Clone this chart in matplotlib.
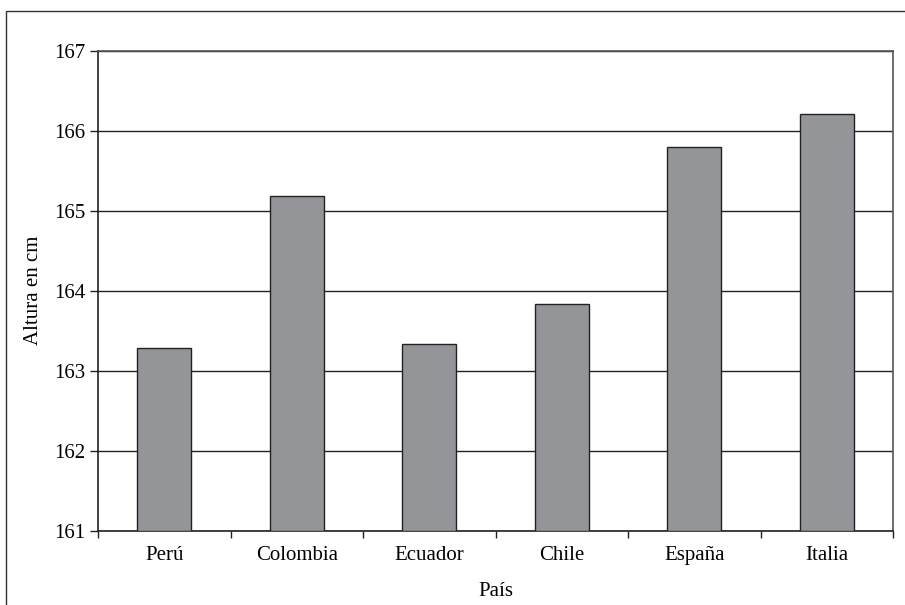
import matplotlib.pyplot as plt
import numpy as np
from matplotlib.patches import Rectangle

paises = ['Perú', 'Colombia', 'Ecuador', 'Chile', 'España', 'Italia']
altura = [163.28, 165.18, 163.33, 163.84, 165.80, 166.21]

plt.rcParams['font.family'] = ['Liberation Serif', 'DejaVu Serif']
plt.rcParams['font.size'] = 15

W, H = 905, 605
fig = plt.figure(figsize=(W / 100, H / 100), dpi=100)
ax = fig.add_axes([98 / W, 1 - 530.7 / H, (893 - 98) / W, (530.7 - 50.7) / H])

# marco exterior del gráfico
fig.patches.append(Rectangle((6 / W, -0.1), 1.2, 1 - 11 / H + 0.1,
                             transform=fig.transFigure, fill=False,
                             edgecolor='#333333', linewidth=1.0))

x = np.arange(len(paises))
ax.bar(x, np.array(altura) - 161, bottom=161, width=0.41,
       color='#939598', edgecolor='#222222', linewidth=1.0, zorder=3)

ax.set_xlim(-0.5, len(paises) - 0.5)
ax.set_ylim(161, 167)
ax.set_yticks(range(161, 168))
ax.yaxis.grid(True, color='#222222', linewidth=1.0, zorder=0)

ax.set_xticks(x)
ax.set_xticklabels(paises)
ax.set_xticks(np.arange(-0.5, len(paises)), minor=True)
ax.tick_params(axis='x', which='major', length=0, pad=11)
ax.tick_params(axis='x', which='minor', length=5, width=1, color='#222222')
ax.tick_params(axis='y', length=6, width=1, color='#222222', pad=3)

for side in ['left', 'bottom']:
    ax.spines[side].set_color('#222222')
    ax.spines[side].set_linewidth(1.2)
for side in ['top', 'right']:
    ax.spines[side].set_color('#555555')
    ax.spines[side].set_linewidth(1.2)

ax.set_xlabel('País', labelpad=12)
ax.set_ylabel('Altura en cm', labelpad=8)

fig.savefig('out.png', dpi=100)
